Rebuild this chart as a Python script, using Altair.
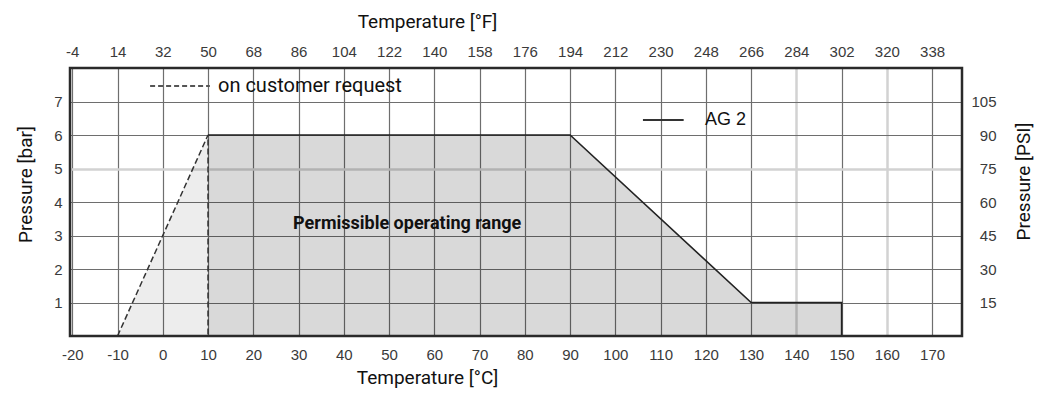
import altair as alt
import pandas as pd

# ---- data ----
temp_c_ticks = list(range(-20, 180, 10))
bar_ticks = [1, 2, 3, 4, 5, 6, 7]

range_t = [10, 90, 130, 150]          # permissible range (AG 2), upper limit
range_p = [6, 6, 1, 1]
outline_t = [10, 90, 130, 150, 150]
outline_p = [6, 6, 1, 1, 0]
request_t = [-10, 10]                 # on customer request
request_p = [0, 6]
request_line_t = [-10, 10, 10]
request_line_p = [0, 6, 0]

legend_dash_t = [-2.8, 10.4]
legend_dash_p = [7.46, 7.46]
legend_solid_t = [106.1, 115.1]
legend_solid_p = [6.45, 6.45]

XS = alt.Scale(domain=[-20.5, 176.6], nice=False, zero=False)
YS = alt.Scale(domain=[0, 8], nice=False, zero=False)

LABEL_FONT = "Liberation Sans"
TITLE_FONT = "Roboto"

light = "datum.value == 140 || datum.value == 160 || datum.value == 5"
grid_color = {"condition": {"test": light, "value": "#d2d2d2"}, "value": "#6e6e6e"}
grid_width = {"condition": {"test": light, "value": 2.5}, "value": 1.2}

common = dict(ticks=False, domain=False, labelFont=LABEL_FONT, labelFontSize=15,
              labelColor="#3a3a3a", titleFont=TITLE_FONT, titleFontSize=19,
              titleFontWeight="normal", titleColor="#111")

ax_bottom = alt.Axis(orient="bottom", values=temp_c_ticks, grid=True, gridColor=grid_color,
                     gridWidth=grid_width, labelPadding=11, title="Temperature [°C]",
                     labelExpr="toString(datum.value)",
                     titleX=357, titleY=41, titleBaseline="middle", **common)
ax_top = alt.Axis(orient="top", values=temp_c_ticks, grid=False, labelPadding=9,
                  labelExpr="toString(round(datum.value * 1.8 + 32))",
                  title="Temperature [°F]", titleX=357, titleY=-47,
                  titleBaseline="middle", **common)
ax_left = alt.Axis(orient="left", values=bar_ticks, grid=True, gridColor=grid_color,
                   gridWidth=grid_width, labelPadding=8, title="Pressure [bar]",
                   titleX=-45, titleY=116, titleAngle=270, titleBaseline="middle", **common)
ax_right = alt.Axis(orient="right", values=bar_ticks, grid=False, labelPadding=34,
                    labelAlign="right", labelExpr="toString(round(datum.value * 15))",
                    title="Pressure [PSI]", titleX=61, titleY=113, titleAngle=270,
                    titleBaseline="middle", **common)

df_range = pd.DataFrame({"t": range_t, "p": range_p})
df_outline = pd.DataFrame({"t": outline_t, "p": outline_p, "i": list(range(len(outline_t)))})
df_req = pd.DataFrame({"t": request_t, "p": request_p})
df_req_line = pd.DataFrame({"t": request_line_t, "p": request_line_p,
                            "i": list(range(len(request_line_t)))})
df_leg_dash = pd.DataFrame({"t": legend_dash_t, "p": legend_dash_p})
df_leg_solid = pd.DataFrame({"t": legend_solid_t, "p": legend_solid_p})

fill_main = alt.Chart(df_range).mark_area(color="black", opacity=0.15).encode(
    x=alt.X("t:Q", scale=XS, axis=ax_bottom),
    y=alt.Y("p:Q", scale=YS, axis=ax_left),
)
fill_req = alt.Chart(df_req).mark_area(color="black", opacity=0.07).encode(
    x=alt.X("t:Q", scale=XS, axis=None),
    y=alt.Y("p:Q", scale=YS, axis=None),
)
outline = alt.Chart(df_outline).mark_line(color="#222", strokeWidth=1.6).encode(
    x=alt.X("t:Q", scale=XS, axis=ax_top),
    y=alt.Y("p:Q", scale=YS, axis=ax_right),
    order="i:Q",
)
req_line = alt.Chart(df_req_line).mark_line(color="#333", strokeWidth=1.5,
                                            strokeDash=[6, 3]).encode(
    x=alt.X("t:Q", scale=XS, axis=None),
    y=alt.Y("p:Q", scale=YS, axis=None),
    order="i:Q",
)
leg_dash = alt.Chart(df_leg_dash).mark_line(color="#555", strokeWidth=2,
                                            strokeDash=[5, 3]).encode(
    x=alt.X("t:Q", scale=XS, axis=None),
    y=alt.Y("p:Q", scale=YS, axis=None),
)
leg_solid = alt.Chart(df_leg_solid).mark_line(color="#333", strokeWidth=2).encode(
    x=alt.X("t:Q", scale=XS, axis=None),
    y=alt.Y("p:Q", scale=YS, axis=None),
)
frame = alt.Chart(pd.DataFrame({"k": [0]})).mark_rect(
    fillOpacity=0, stroke="#2a2a2a", strokeWidth=2.5).encode(
    x=alt.value(0), x2=alt.value(892), y=alt.value(0), y2=alt.value(268),
)

def label(t, p, text, font, size, weight="normal"):
    return alt.Chart(pd.DataFrame({"t": [t], "p": [p], "s": [text]})).mark_text(
        align="left", baseline="middle", font=font, fontSize=size,
        fontWeight=weight, color="#111").encode(
        x=alt.X("t:Q", scale=XS, axis=None),
        y=alt.Y("p:Q", scale=YS, axis=None),
        text="s:N",
    )

txt_req = label(12.2, 7.46, "on customer request", TITLE_FONT, 20)
txt_ag = label(119.8, 6.45, "AG 2", LABEL_FONT, 18)
txt_range = label(28.8, 3.34, "Permissible operating range", TITLE_FONT, 18, "bold")

chart = alt.layer(
    fill_main, fill_req, outline, req_line, leg_dash, leg_solid, frame,
    txt_req, txt_ag, txt_range
).resolve_scale(x="independent", y="independent").properties(
    width=892, height=268,
    autosize=alt.AutoSizeParams(type="none"),
    padding={"left": 62, "top": 60, "right": 78, "bottom": 58},
).configure_view(stroke="#333", strokeWidth=2.5).configure(background="white")

chart.save("out.html", embed_options={"renderer": "svg", "actions": False})
